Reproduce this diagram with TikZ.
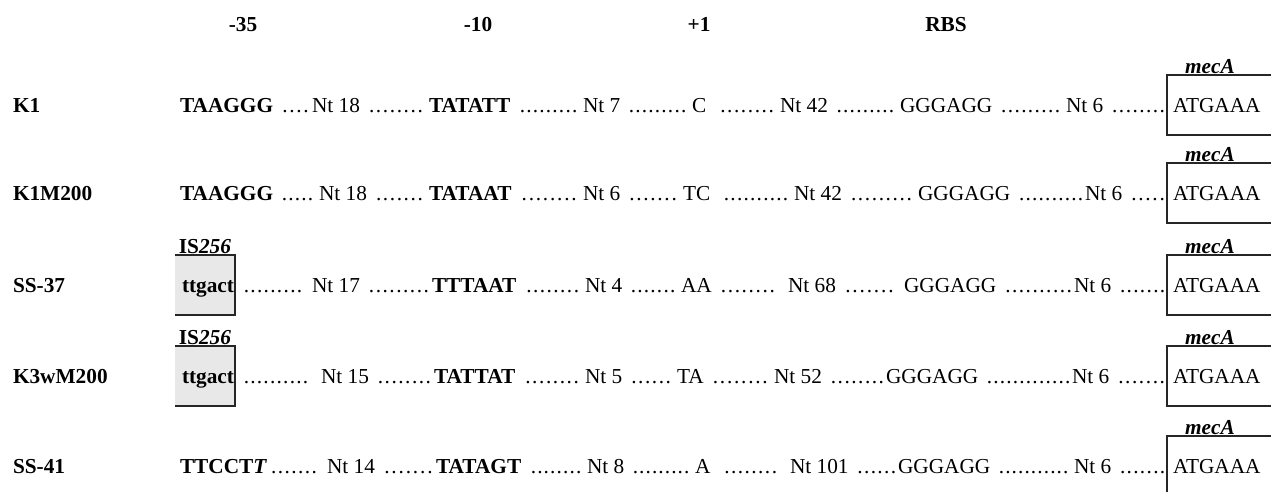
\documentclass[tikz,border=0pt]{standalone}
\usepackage{fontspec}
\setmainfont{Liberation Serif}
\usetikzlibrary{calc}

\tikzset{
  seq/.style={anchor=base west, inner sep=0pt, outer sep=0pt, font=\fontsize{21.3}{25}\selectfont},
  motif/.style={seq, font=\fontsize{21.3}{25}\selectfont\bfseries},
  head/.style={anchor=base, inner sep=0pt, font=\fontsize{21.3}{25}\selectfont\bfseries},
  tag/.style={anchor=base, inner sep=0pt, font=\fontsize{21.3}{25}\selectfont\bfseries},
  boxline/.style={line width=1.5pt, draw=black!85},
  genebox/.style={boxline, draw, anchor=north west, minimum width=160pt, minimum height=60pt, inner sep=0pt, outer sep=0pt},
  isbox/.style={fill=black!9, anchor=north west, minimum width=60pt, minimum height=60pt, inner sep=0pt, outer sep=0pt},
}

\newlength\dotlen
\newcommand\dotfiller[1]{%
  \pgfmathsetlength\dotlen{#1}%
  \hbox to \dotlen{\xleaders\hbox to 6.4pt{\hss.\hss}\hfill}}

% a run of dots filling the space between two named nodes
% #1 name, #2 left node, #3 right node, #4 left gap, #5 right gap
\newcommand\dotrun[5]{%
  \path let \p1=(#2.base east), \p2=(#3.base west),
            \n1={\x2-\x1-(#4pt)-(#5pt)} in
    node[seq] (#1) at (\x1+#4pt,\y1) {\dotfiller{\n1}};
}

% mecA start codon box with its label; #1 suffix, #2 baseline
\newcommand\mecbox[2]{%
  \node[genebox] (gene#1) at (1167,#2-37) {};
  \node[tag] (mec#1) at (1210,#2-39) {\itshape mecA};
  \node[seq] (atg#1) at (1173,#2) {ATGAAA};
}

% IS256 insertion box with its label; #1 suffix, #2 baseline
\newcommand\isins[2]{%
  \node[isbox] (is#1) at (175,#2-37) {};
  \draw[boxline] (is#1.north west) -- (is#1.north east) -- (is#1.south east) -- (is#1.south west);
  \node[tag] (islab#1) at (205,#2-39) {IS\textit{256}};
  \node[motif] (tt#1) at (182,#2) {ttgact};
}

\begin{document}
\begin{tikzpicture}[x=1pt, y=-1pt]
\clip (0,0) rectangle (1271,491);
\fill[white] (0,0) rectangle (1271,491);

% column headings
\node[head] (h35)  at (243,31) {-35};
\node[head] (h10)  at (478,31) {-10};
\node[head] (hp1)  at (699,31) {+1};
\node[head] (hrbs) at (946,31) {RBS};

% K1
\node[motif] (s1) at (13,112) {K1};
\node[motif] (a1) at (180,112) {TAAGGG};
\node[seq]   (b1) at (312,112) {Nt 18};
\node[motif] (c1) at (429,112) {TATATT};
\node[seq]   (e1) at (583,112) {Nt 7};
\node[seq]   (f1) at (692,112) {C};
\node[seq]   (g1) at (780,112) {Nt 42};
\node[seq]   (r1) at (900,112) {GGGAGG};
\node[seq]   (i1) at (1066,112) {Nt 6};
\mecbox{1}{112}
\dotrun{d1a}{a1}{b1}{8}{2}
\dotrun{d1b}{b1}{c1}{8}{5}
\dotrun{d1c}{c1}{e1}{9}{5}
\dotrun{d1d}{e1}{f1}{8}{5}
\dotrun{d1e}{f1}{g1}{13}{5}
\dotrun{d1f}{g1}{r1}{8}{5}
\dotrun{d1g}{r1}{i1}{8}{5}
\dotrun{d1h}{i1}{gene1}{8}{1}

% K1M200
\node[motif] (s2) at (13,200) {K1M200};
\node[motif] (a2) at (180,200) {TAAGGG};
\node[seq]   (b2) at (319,200) {Nt 18};
\node[motif] (c2) at (429,200) {TATAAT};
\node[seq]   (e2) at (583,200) {Nt 6};
\node[seq]   (f2) at (683,200) {TC};
\node[seq]   (g2) at (794,200) {Nt 42};
\node[seq]   (r2) at (918,200) {GGGAGG};
\node[seq]   (i2) at (1085,200) {Nt 6};
\mecbox{2}{200}
\dotrun{d2a}{a2}{b2}{8}{5}
\dotrun{d2b}{b2}{c2}{8}{5}
\dotrun{d2c}{c2}{e2}{9}{5}
\dotrun{d2d}{e2}{f2}{8}{5}
\dotrun{d2e}{f2}{g2}{13}{5}
\dotrun{d2f}{g2}{r2}{8}{5}
\dotrun{d2g}{r2}{i2}{8}{1}
\dotrun{d2h}{i2}{gene2}{8}{1}

% SS-37
\node[motif] (s3) at (13,292) {SS-37};
\isins{3}{292}
\node[seq]   (b3) at (312,292) {Nt 17};
\node[motif] (c3) at (432,292) {TTTAAT};
\node[seq]   (e3) at (585,292) {Nt 4};
\node[seq]   (f3) at (681,292) {AA};
\node[seq]   (g3) at (788,292) {Nt 68};
\node[seq]   (r3) at (904,292) {GGGAGG};
\node[seq]   (i3) at (1074,292) {Nt 6};
\mecbox{3}{292}
\dotrun{d3a}{tt3}{b3}{9}{9}
\dotrun{d3b}{b3}{c3}{8}{2}
\dotrun{d3c}{c3}{e3}{9}{5}
\dotrun{d3d}{e3}{f3}{8}{5}
\dotrun{d3e}{f3}{g3}{8}{12}
\dotrun{d3f}{g3}{r3}{8}{9}
\dotrun{d3g}{r3}{i3}{8}{1}
\dotrun{d3h}{i3}{gene3}{8}{1}

% K3wM200
\node[motif] (s4) at (13,383) {K3wM200};
\isins{4}{383}
\node[seq]   (b4) at (321,383) {Nt 15};
\node[motif] (c4) at (434,383) {TATTAT};
\node[seq]   (e4) at (585,383) {Nt 5};
\node[seq]   (f4) at (677,383) {TA};
\node[seq]   (g4) at (774,383) {Nt 52};
\node[seq]   (r4) at (886,383) {GGGAGG};
\node[seq]   (i4) at (1072,383) {Nt 6};
\mecbox{4}{383}
\dotrun{d4a}{tt4}{b4}{9}{12}
\dotrun{d4b}{b4}{c4}{8}{2}
\dotrun{d4c}{c4}{e4}{9}{5}
\dotrun{d4d}{e4}{f4}{8}{5}
\dotrun{d4e}{f4}{g4}{8}{5}
\dotrun{d4f}{g4}{r4}{8}{1}
\dotrun{d4g}{r4}{i4}{8}{1}
\dotrun{d4h}{i4}{gene4}{8}{1}

% SS-41
\node[motif] (s5) at (13,473) {SS-41};
\node[motif] (a5) at (180,473) {TTCCT\textit{T}};
\node[seq]   (b5) at (327,473) {Nt 14};
\node[motif] (c5) at (436,473) {TATAGT};
\node[seq]   (e5) at (587,473) {Nt 8};
\node[seq]   (f5) at (695,473) {A};
\node[seq]   (g5) at (790,473) {Nt 101};
\node[seq]   (r5) at (898,473) {GGGAGG};
\node[seq]   (i5) at (1074,473) {Nt 6};
\mecbox{5}{473}
\dotrun{d5a}{a5}{b5}{3}{9}
\dotrun{d5b}{b5}{c5}{8}{2}
\dotrun{d5c}{c5}{e5}{9}{5}
\dotrun{d5d}{e5}{f5}{8}{5}
\dotrun{d5e}{f5}{g5}{13}{12}
\dotrun{d5f}{g5}{r5}{8}{1}
\dotrun{d5g}{r5}{i5}{8}{5}
\dotrun{d5h}{i5}{gene5}{8}{1}
\end{tikzpicture}
\end{document}
